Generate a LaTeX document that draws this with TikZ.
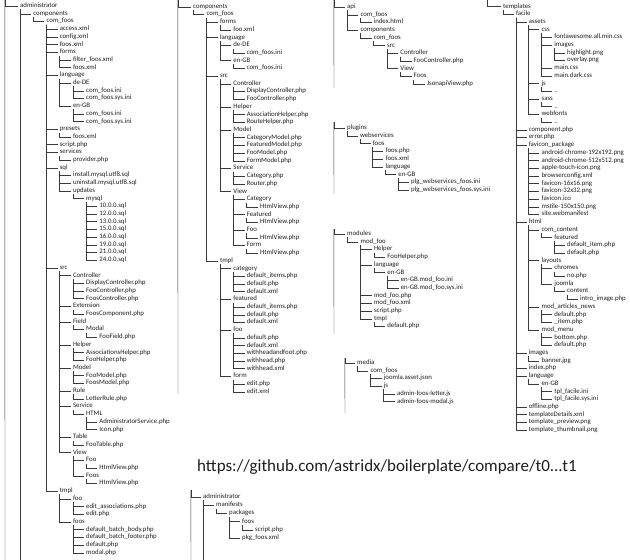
\documentclass[tikz,border=0pt]{standalone}
\usepackage{fontspec}
\setmainfont{Carlito}
\usetikzlibrary{positioning}
\definecolor{treeink}{HTML}{1E1E1E}
\definecolor{treeline}{HTML}{3A3A3A}
\tikzset{
  entry/.style={
    anchor=west,
    inner xsep=2pt,
    inner ysep=0.4pt,
    text height=4.2pt,
    text depth=1.2pt,
    text=treeink,
    font=\fontsize{6.8}{7}\selectfont
  },
  rootpt/.style={shape=rectangle,inner sep=0pt,minimum size=0pt},
  branch/.style={draw=treeline,line width=0.4pt},
  link/.style={anchor=base west,inner sep=0pt,text=treeink,font=\fontsize{17}{19}\selectfont}
}

\begin{document}
\begin{tikzpicture}[x=1pt,y=-1pt]
  \useasboundingbox (0,0) rectangle (630,560);

  % administrator / components
  \node[rootpt] (a0) at (3,0) {};
  \coordinate (a0end) at (5,560);
  \draw[branch] ([xshift=2pt]a0.south west) -- (a0end);
  \foreach \lv/\pa/\tx [count=\i] in {
    1/0/administrator, 2/1/components, 3/2/com\_foos,
    4/3/access.xml, 4/3/config.xml, 4/3/foos.xml, 4/3/forms,
    5/7/filter\_foos.xml, 5/7/foos.xml,
    4/3/language, 5/10/de-DE, 6/11/com\_foos.ini, 6/11/com\_foos.sys.ini,
    5/10/en-GB, 6/14/com\_foos.ini, 6/14/com\_foos.sys.ini,
    4/3/presets, 5/17/foos.xml, 4/3/script.php, 4/3/services, 5/20/provider.php,
    4/3/sql, 5/22/install.mysql.utf8.sql, 5/22/uninstall.mysql.utf8.sql,
    5/22/updates, 6/25/mysql,
    7/26/10.0.0.sql, 7/26/12.0.0.sql, 7/26/13.0.0.sql, 7/26/15.0.0.sql,
    7/26/16.0.0.sql, 7/26/19.0.0.sql, 7/26/21.0.0.sql, 7/26/24.0.0.sql,
    4/3/src, 5/35/Controller, 6/36/DisplayController.php,
    6/36/FooController.php, 6/36/FoosController.php,
    5/35/Extension, 6/40/FoosComponent.php,
    5/35/Field, 6/42/Modal, 7/43/FooField.php,
    5/35/Helper, 6/45/AssociationsHelper.php, 6/45/FooHelper.php,
    5/35/Model, 6/48/FooModel.php, 6/48/FoosModel.php,
    5/35/Rule, 6/51/LetterRule.php,
    5/35/Service, 6/53/HTML, 7/54/AdministratorService.php, 7/54/Icon.php,
    5/35/Table, 6/57/FooTable.php,
    5/35/View, 6/59/Foo, 7/60/HtmlView.php, 6/59/Foos, 7/62/HtmlView.php,
    4/3/tmpl, 5/64/foo, 6/65/edit\_associations.php, 6/65/edit.php,
    5/64/foos, 6/68/default\_batch\_body.php, 6/68/default\_batch\_footer.php,
    6/68/default.php, 6/68/modal.php} {
    \node[entry] (a\i) at ({18+(\lv-1)*13.2},{6+(\i-1)*7.7}) {\tx};
    \draw[branch] ([xshift=2pt]a\pa.south west) |- (a\i.west);
  }
  \coordinate (a1end) at (20,560);
  \draw[branch] ([xshift=2pt]a1.south west) -- (a1end);

  % components (site)
  \node[rootpt] (b0) at (176,0) {};
  \coordinate (b0end) at (178,394);
  \draw[branch] ([xshift=2pt]b0.south west) -- (b0end);
  \foreach \lv/\pa/\tx [count=\i] in {
    1/0/components, 2/1/com\_foos,
    3/2/forms, 4/3/foo.xml,
    3/2/language, 4/5/de-DE, 5/6/com\_foos.ini, 4/5/en-GB, 5/8/com\_foos.ini,
    3/2/src, 4/10/Controller, 5/11/DisplayController.php, 5/11/FooController.php,
    4/10/Helper, 5/14/AssociationHelper.php, 5/14/RouteHelper.php,
    4/10/Model, 5/17/CategoryModel.php, 5/17/FeaturedModel.php,
    5/17/FooModel.php, 5/17/FormModel.php,
    4/10/Service, 5/22/Category.php, 5/22/Router.php,
    4/10/View, 5/25/Category, 6/26/HtmlView.php, 5/25/Featured, 6/28/HtmlView.php,
    5/25/Foo, 6/30/HtmlView.php, 5/25/Form, 6/32/HtmlView.php,
    3/2/tmpl, 4/34/category, 5/35/default\_items.php, 5/35/default.php, 5/35/default.xml,
    4/34/featured, 5/39/default\_items.php, 5/39/default.php, 5/39/default.xml,
    4/34/foo, 5/43/default.php, 5/43/default.xml, 5/43/withheadandfoot.php,
    5/43/withhead.php, 5/43/withhead.xml,
    4/34/form, 5/49/edit.php, 5/49/edit.xml} {
    \node[entry] (b\i) at ({191+(\lv-1)*13.4},{6.7+(\i-1)*7.7}) {\tx};
    \draw[branch] ([xshift=2pt]b\pa.south west) |- (b\i.west);
  }

  % api
  \node[rootpt] (c0) at (332,0) {};
  \coordinate (c0end) at (334,88);
  \draw[branch] ([xshift=2pt]c0.south west) -- (c0end);
  \foreach \lv/\pa/\tx [count=\i] in {
    1/0/api, 2/1/com\_foos, 3/2/index.html,
    2/1/components, 3/4/com\_foos, 4/5/src,
    5/6/Controller, 6/7/FooController.php,
    5/6/View, 6/9/Foos, 7/10/JsonapiView.php} {
    \node[entry] (c\i) at ({345+(\lv-1)*13.3},{7+(\i-1)*7.7}) {\tx};
    \draw[branch] ([xshift=2pt]c\pa.south west) |- (c\i.west);
  }

  % plugins
  \node[rootpt] (d0) at (332,122) {};
  \coordinate (d0end) at (334,194);
  \draw[branch] ([xshift=2pt]d0.south west) -- (d0end);
  \foreach \lv/\pa/\tx [count=\i] in {
    1/0/plugins, 2/1/webservices, 3/2/foos,
    4/3/foos.php, 4/3/foos.xml, 4/3/language, 5/6/en-GB,
    6/7/plg\_webservices\_foos.ini, 6/7/plg\_webservices\_foos.sys.ini} {
    \node[entry] (d\i) at ({345+(\lv-1)*12.8},{128+(\i-1)*7.75}) {\tx};
    \draw[branch] ([xshift=2pt]d\pa.south west) |- (d\i.west);
  }

  % modules
  \node[rootpt] (e0) at (332,229) {};
  \coordinate (e0end) at (334,334);
  \draw[branch] ([xshift=2pt]e0.south west) -- (e0end);
  \foreach \lv/\pa/\tx [count=\i] in {
    1/0/modules, 2/1/mod\_foo,
    3/2/Helper, 4/3/FooHelper.php,
    3/2/language, 4/5/en-GB, 5/6/en-GB.mod\_foo.ini, 5/6/en-GB.mod\_foo.sys.ini,
    3/2/mod\_foo.php, 3/2/mod\_foo.xml, 3/2/script.php,
    3/2/tmpl, 4/12/default.php} {
    \node[entry] (e\i) at ({345+(\lv-1)*13.4},{234+(\i-1)*7.7}) {\tx};
    \draw[branch] ([xshift=2pt]e\pa.south west) |- (e\i.west);
  }

  % media
  \node[rootpt] (f0) at (343,358) {};
  \coordinate (f0end) at (345,413);
  \draw[branch] ([xshift=2pt]f0.south west) -- (f0end);
  \foreach \lv/\pa/\tx [count=\i] in {
    1/0/media, 2/1/com\_foos, 3/2/joomla.asset.json,
    3/2/js, 4/4/admin-foos-letter.js, 4/4/admin-foos-modal.js} {
    \node[entry] (f\i) at ({355+(\lv-1)*13.3},{363+(\i-1)*7.7}) {\tx};
    \draw[branch] ([xshift=2pt]f\pa.south west) |- (f\i.west);
  }

  % templates
  \node[rootpt] (g0) at (485,0) {};
  \foreach \lv/\pa/\tx [count=\i] in {
    1/0/templates, 2/1/facile,
    3/2/assets, 4/3/css, 5/4/fontawesome.all.min.css,
    5/4/images, 6/6/highlight.png, 6/6/overlay.png,
    5/4/main.css, 5/4/main.dark.css,
    4/3/js, 5/11/.., 4/3/sass, 5/13/.., 4/3/webfonts, 5/15/..,
    3/2/component.php, 3/2/error.php,
    3/2/favicon\_package, 4/19/android-chrome-192x192.png,
    4/19/android-chrome-512x512.png, 4/19/apple-touch-icon.png,
    4/19/browserconfig.xml, 4/19/favicon-16x16.png, 4/19/favicon-32x32.png,
    4/19/favicon.ico, 4/19/mstile-150x150.png, 4/19/site.webmanifest,
    3/2/html, 4/29/com\_content, 5/30/featured,
    6/31/default\_item.php, 6/31/default.php,
    4/29/layouts, 5/34/chromes, 6/35/no.php,
    5/34/joomla, 6/37/content, 7/38/intro\_image.php,
    4/29/mod\_articles\_news, 5/40/default.php, 5/40/\_item.php,
    4/29/mod\_menu, 5/43/bottom.php, 5/43/default.php,
    3/2/images, 4/46/banner.jpg, 3/2/index.php,
    3/2/language, 4/49/en-GB, 5/50/tpl\_facile.ini, 5/50/tpl\_facile.sys.ini,
    3/2/offline.php, 3/2/templateDetails.xml,
    3/2/template\_preview.png, 3/2/template\_thumbnail.png} {
    \node[entry] (g\i) at ({501+(\lv-1)*12.8},{6.5+(\i-1)*7.7}) {\tx};
    \draw[branch] ([xshift=2pt]g\pa.south west) |- (g\i.west);
  }

  % compare link
  \node[link] (url) at (197,471) {https://github.com/astridx/boilerplate/compare/t0...t1};

  % administrator / manifests
  \node[rootpt] (h0) at (189,490) {};
  \coordinate (h0end) at (191,560);
  \draw[branch] ([xshift=2pt]h0.south west) -- (h0end);
  \foreach \lv/\pa/\tx [count=\i] in {
    1/0/administrator, 2/1/manifests, 3/2/packages,
    4/3/foos, 5/4/script.php, 4/3/pkg\_foos.xml} {
    \node[entry] (h\i) at ({201+(\lv-1)*13},{497+(\i-1)*8.2}) {\tx};
    \draw[branch] ([xshift=2pt]h\pa.south west) |- (h\i.west);
  }
  \coordinate (h1end) at (203,560);
  \draw[branch] ([xshift=2pt]h1.south west) -- (h1end);
\end{tikzpicture}
\end{document}
